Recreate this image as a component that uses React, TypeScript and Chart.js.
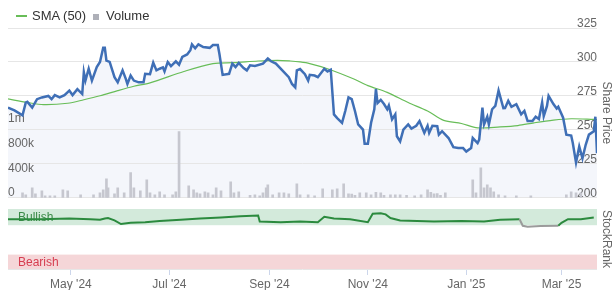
import React, { useEffect, useRef } from 'react';
import { Chart, registerables } from 'chart.js';

Chart.register(...registerables);

// ---- data (x values are calendar days since 2024-03-23) ----
const START_DATE = '2024-03-23';
const END_DAY = 365;

const priceDays = [0, 4, 9, 11, 12, 15, 18, 21, 25, 27, 29, 32, 35, 38, 40, 43, 46, 47, 48, 50, 52, 55, 57, 59, 60, 61, 63, 66, 68, 71, 73, 74, 76, 78, 81, 84, 85, 88, 90, 92, 94, 96, 97, 99, 101, 104, 106, 108, 111, 113, 114, 116, 118, 121, 125, 127, 130, 131, 133, 137, 139, 141, 143, 146, 148, 150, 153, 158, 161, 163, 166, 170, 174, 176, 178, 179, 181, 184, 186, 187, 190, 192, 196, 198, 200, 202, 204, 207, 209, 211, 213, 215, 217, 220, 221, 223, 225, 227, 228, 229, 231, 233, 235, 236, 238, 240, 241, 243, 245, 248, 250, 253, 255, 258, 260, 261, 263, 266, 267, 269, 273, 276, 279, 282, 284, 287, 288, 291, 292, 294, 295, 297, 298, 300, 302, 304, 307, 308, 310, 312, 315, 318, 320, 322, 325, 327, 329, 331, 332, 334, 335, 338, 340, 341, 344, 346, 349, 350, 352, 354, 356, 358, 360, 363, 364, 365];
const priceValues = [266.4, 264.4, 260.7, 270, 270.6, 266.4, 272.6, 273.9, 275, 272.6, 275.6, 274, 275.6, 278.9, 275.6, 280, 276.4, 292.5, 286.3, 295, 286.3, 296.3, 300, 310.4, 310.4, 301, 300, 288.8, 285, 293.8, 287.6, 283.8, 290, 286.3, 285, 285, 291.3, 291, 299.5, 293.8, 295, 296, 293, 300, 297, 300.5, 298, 303.7, 305.5, 308.7, 312.9, 310, 313, 311, 310.4, 312.4, 312.4, 306, 290.5, 291.3, 298.8, 296.3, 299.3, 295.5, 293.8, 297.5, 297, 298.8, 302.5, 300.5, 298.8, 293.8, 288.8, 283.8, 281.3, 293.8, 294.8, 291, 286.3, 290.5, 290, 288.8, 295, 293, 294.3, 261.4, 258.7, 255.2, 263.9, 273.9, 272.6, 263.9, 254, 250.2, 239.8, 239.8, 255.2, 265.2, 280.1, 269.7, 272.1, 269, 265.2, 268, 257.7, 261.4, 245.3, 241.5, 250.2, 254, 251, 253, 256.5, 247.8, 253, 247.8, 253, 252.7, 246.5, 249, 244, 237.3, 236.6, 236.6, 234, 236.6, 244, 240.3, 242.8, 266.4, 254, 259.7, 254, 265.2, 267.7, 278.9, 265.9, 266, 271.4, 267, 268.9, 261.4, 264, 256.5, 256.5, 259.7, 258, 270.1, 260.2, 267.7, 275.1, 269, 265.7, 267, 259, 246.5, 245.8, 240.3, 225.9, 237.8, 229.1, 239, 246.5, 249, 259.7, 232.8];

const smaDays = [0, 12, 22, 37, 47, 57, 68, 78, 88, 109, 127, 140, 155, 167, 175, 181, 187, 198, 214, 223, 235, 248, 260, 270, 281, 291, 305, 316, 326, 338, 349, 363, 365];
const smaValues = [272.8, 270.2, 268.6, 269.6, 272.2, 275.1, 278.9, 282.1, 284.6, 293, 298.8, 299.5, 300.7, 301.2, 300.7, 300, 298.8, 295, 287.6, 282.6, 277.6, 270.1, 263.9, 257, 254.7, 251.5, 252.2, 253.2, 255.2, 257.2, 258.2, 257.7, 257.6];

const volumeDays = [9, 11, 15, 17, 21, 23, 26, 29, 34, 37, 45, 53, 57, 59, 61, 62, 66, 68, 72, 76, 78, 82, 86, 88, 91, 94, 97, 102, 104, 106, 112, 115, 117, 119, 122, 124, 127, 129, 132, 138, 140, 143, 150, 153, 156, 158, 160, 161, 164, 168, 171, 174, 179, 181, 186, 190, 195, 201, 204, 208, 211, 213, 215, 218, 222, 225, 228, 231, 233, 237, 240, 243, 247, 252, 256, 260, 262, 264, 266, 268, 271, 288, 290, 293, 295, 297, 299, 301, 304, 308, 315, 324, 346, 349, 352, 355];
const volumeValues = [82000, 49000, 163000, 65000, 114000, 33000, 33000, 33000, 130000, 114000, 49000, 49000, 82000, 130000, 310000, 163000, 65000, 163000, 82000, 408000, 163000, 114000, 293000, 82000, 49000, 98000, 49000, 49000, 98000, 1076000, 196000, 130000, 82000, 65000, 98000, 82000, 49000, 163000, 114000, 261000, 82000, 98000, 40000, 49000, 30000, 82000, 163000, 212000, 49000, 82000, 82000, 65000, 228000, 49000, 49000, 30000, 147000, 130000, 147000, 228000, 65000, 60000, 40000, 82000, 82000, 50000, 90000, 82000, 40000, 49000, 50000, 49000, 40000, 30000, 50000, 130000, 90000, 65000, 70000, 40000, 82000, 293000, 82000, 489000, 163000, 212000, 163000, 98000, 49000, 33000, 33000, 33000, 49000, 98000, 82000, 82000];

const rankDays = [0, 20, 38, 51, 57, 60, 62, 66, 70, 76, 85, 94, 107, 119, 132, 144, 155, 156, 169, 181, 192, 196, 202, 212, 223, 226, 231, 234, 237, 243, 264, 281, 295, 305, 317, 319, 322, 330, 341, 343, 347, 355, 363];
const rankValues = [83, 83, 84, 83, 82, 84, 85, 81, 75, 77, 78, 80, 82, 84, 86, 88, 89, 79, 78, 79, 78, 87, 84, 83, 78, 92, 93, 91, 85, 81, 79, 80, 79, 82, 83, 72, 70.5, 71.5, 72, 77, 83, 83, 86];

const priceTicks = [200, 225, 250, 275, 300, 325];
const volumeTicks = [0, 400000, 800000, 1200000];
const volumeTickLabels = ['0', '400k', '800k', '1m'];
const monthTickDates = ['2024-05-01', '2024-07-01', '2024-09-01', '2024-11-01', '2025-01-01', '2025-03-01'];
const monthTickLabels = ["May '24", "Jul '24", "Sep '24", "Nov '24", "Jan '25", "Mar '25"];
const bullishRange = [73, 100];
const bearishRange = [0, 24];

// ---- styling ----
const FONT = "'Liberation Sans', Arial, sans-serif";
const PRICE_COLOR = '#3f6fb6';
const SMA_COLOR = '#68bd58';
const VOL_COLOR = '#c6c7cf';
const RANK_COLOR = '#2b8a3e';
const GRID = '#e6e6e6';
const LABEL = '#666666';
const VOL_MAX = 2760000;

const dayOf = (d: string) => (Date.parse(d) - Date.parse(START_DATE)) / 86400000;
const pts = (xs: number[], ys: number[]) => xs.map((x, i) => ({ x, y: ys[i] }));

const bandsPlugin = {
  id: 'bands',
  beforeDatasetsDraw(chart: any) {
    const { ctx, chartArea, scales } = chart;
    const y = scales.y;
    const draw = (range: number[], fill: string, text: string, color: string) => {
      const top = y.getPixelForValue(range[1]);
      const bot = y.getPixelForValue(range[0]);
      ctx.save();
      ctx.fillStyle = fill;
      ctx.fillRect(chartArea.left, top, chartArea.right - chartArea.left, bot - top);
      ctx.fillStyle = color;
      ctx.font = `12px ${FONT}`;
      ctx.textBaseline = 'middle';
      ctx.textAlign = 'left';
      ctx.fillText(text, chartArea.left + 10, (top + bot) / 2 + 1);
      ctx.restore();
    };
    draw(bullishRange, '#d3eadb', 'Bullish', '#3a8a48');
    draw(bearishRange, '#f5d6d8', 'Bearish', '#d63d50');
  },
};

export default function App() {
  const topRef = useRef<HTMLCanvasElement>(null);
  const botRef = useRef<HTMLCanvasElement>(null);

  useEffect(() => {
    const tickFont = { family: FONT, size: 12 };
    const top = new Chart(topRef.current as HTMLCanvasElement, {
      type: 'line',
      data: {
        datasets: [
          {
            type: 'line',
            label: 'Price',
            data: pts(priceDays, priceValues),
            yAxisID: 'y',
            borderColor: PRICE_COLOR,
            borderWidth: 2.5,
            pointRadius: 0,
            tension: 0,
            fill: 'start',
            backgroundColor: '#f4f6fb',
            order: 1,
          },
          {
            type: 'line',
            label: 'SMA (50)',
            data: pts(smaDays, smaValues),
            yAxisID: 'y',
            borderColor: SMA_COLOR,
            borderWidth: 1.2,
            pointRadius: 0,
            tension: 0.3,
            fill: false,
            order: 2,
          },
          {
            type: 'bar',
            label: 'Volume',
            data: pts(volumeDays, volumeValues),
            yAxisID: 'yVol',
            backgroundColor: VOL_COLOR,
            barThickness: 2,
            order: 3,
          } as any,
        ],
      },
      options: {
        animation: false,
        responsive: false,
        layout: { padding: { left: 8, right: 2.6, top: 28, bottom: 0 } },
        scales: {
          x: { type: 'linear', min: 0, max: END_DAY, display: false, offset: false },
          y: {
            position: 'right',
            min: 200,
            max: 325,
            afterBuildTicks: (s: any) => { s.ticks = priceTicks.map((v) => ({ value: v })); },
            grid: { color: GRID, drawTicks: false },
            border: { display: false },
            ticks: { mirror: true, padding: 0, labelOffset: -4, color: LABEL, font: tickFont },
            title: { display: true, text: 'Share Price', color: LABEL, font: tickFont, padding: { top: 0, bottom: 2 } },
          },
          yVol: {
            position: 'left',
            min: 0,
            max: VOL_MAX,
            afterBuildTicks: (s: any) => { s.ticks = volumeTicks.map((v) => ({ value: v })); },
            grid: { display: false, drawTicks: false },
            border: { display: false },
            ticks: {
              mirror: true,
              padding: 0,
              labelOffset: -5,
              color: LABEL,
              font: tickFont,
              callback: (v: any) => volumeTickLabels[volumeTicks.indexOf(Number(v))] ?? '',
            },
          },
        },
        plugins: {
          legend: { display: false },
          tooltip: { enabled: false },
          filler: { drawTime: 'beforeDraw' },
        } as any,
      },
    });

    const monthDays = monthTickDates.map(dayOf);
    const bot = new Chart(botRef.current as HTMLCanvasElement, {
      type: 'line',
      data: {
        datasets: [
          {
            label: 'StockRank',
            data: pts(rankDays, rankValues),
            borderColor: RANK_COLOR,
            borderWidth: 2,
            pointRadius: 0,
            tension: 0,
            segment: {
              borderColor: (c: any) => (c.p1.parsed.y < bullishRange[0] ? '#9b9b9b' : RANK_COLOR),
            },
          },
        ],
      },
      options: {
        animation: false,
        responsive: false,
        layout: { padding: { left: 8, right: 2.6, top: 9, bottom: 1.6 } },
        scales: {
          x: {
            type: 'linear',
            min: 0,
            max: END_DAY,
            afterBuildTicks: (s: any) => { s.ticks = monthDays.map((v) => ({ value: v })); },
            ticks: {
              autoSkip: false,
              maxRotation: 0,
              padding: 2,
              color: LABEL,
              font: tickFont,
              callback: (_v: any, i: number) => monthTickLabels[i],
            },
            grid: { drawOnChartArea: false, drawTicks: true, tickLength: 6, color: '#ccd6eb' },
            border: { display: false },
          },
          y: {
            position: 'right',
            min: 0,
            max: 100,
            afterBuildTicks: (s: any) => { s.ticks = [{ value: 0 }, { value: 100 }]; },
            grid: { color: GRID, drawTicks: false },
            border: { display: false },
            ticks: {
              mirror: true,
              padding: 0,
              labelOffset: -7,
              color: LABEL,
              font: tickFont,
              callback: (v: any) => (Number(v) === 0 ? '0' : ''),
            },
            title: { display: true, text: 'StockRank', color: LABEL, font: tickFont, padding: { top: 0, bottom: 2 } },
          },
        },
        plugins: { legend: { display: false }, tooltip: { enabled: false } },
      },
      plugins: [bandsPlugin],
    });

    return () => {
      top.destroy();
      bot.destroy();
    };
  }, []);

  const legendText: React.CSSProperties = {
    position: 'absolute',
    top: 8,
    font: `13px ${FONT}`,
    lineHeight: '15px',
    color: '#333',
    whiteSpace: 'nowrap',
  };

  return (
    <div style={{ position: 'fixed', left: 0, top: 0, width: 616, height: 290, background: '#fff', overflow: 'hidden' }}>
      <canvas ref={topRef} width={616} height={205} style={{ position: 'absolute', left: 0, top: 0, display: 'block' }} />
      <canvas ref={botRef} width={616} height={95} style={{ position: 'absolute', left: 0, top: 200, display: 'block' }} />
      <div style={{ position: 'absolute', left: 16, top: 15, width: 11, height: 2, background: SMA_COLOR }} />
      <div style={{ ...legendText, left: 32 }}>SMA (50)</div>
      <div style={{ position: 'absolute', left: 93, top: 14, width: 6, height: 6, background: '#aeb0b8' }} />
      <div style={{ ...legendText, left: 106 }}>Volume</div>
    </div>
  );
}
